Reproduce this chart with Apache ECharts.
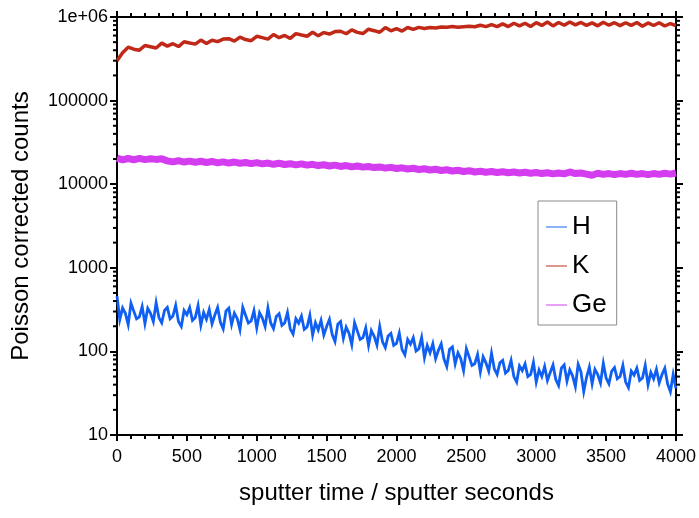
<!DOCTYPE html>
<html>
<head>
<meta charset="utf-8">
<script src="https://cdn.jsdelivr.net/npm/echarts@6/dist/echarts.min.js"></script>
<style>
html,body{margin:0;padding:0;background:#fff;}
#chart{width:699px;height:518px;}
</style>
</head>
<body>
<div id="chart"></div>
<script>
// ---- data ----
const SERIES_NAMES = ['H', 'K', 'Ge'];

const H_TIME = [0,20,40,60,80,100,120,140,160,180,200,220,240,260,280,300,320,340,360,380,400,420,440,460,480,500,520,540,560,580,600,620,640,660,680,700,720,740,760,780,800,820,840,860,880,900,920,940,960,980,1000,1020,1040,1060,1080,1100,1120,1140,1160,1180,1200,1220,1240,1260,1280,1300,1320,1340,1360,1380,1400,1420,1440,1460,1480,1500,1520,1540,1560,1580,1600,1620,1640,1660,1680,1700,1720,1740,1760,1780,1800,1820,1840,1860,1880,1900,1920,1940,1960,1980,2000,2020,2040,2060,2080,2100,2120,2140,2160,2180,2200,2220,2240,2260,2280,2300,2320,2340,2360,2380,2400,2420,2440,2460,2480,2500,2520,2540,2560,2580,2600,2620,2640,2660,2680,2700,2720,2740,2760,2780,2800,2820,2840,2860,2880,2900,2920,2940,2960,2980,3000,3020,3040,3060,3080,3100,3120,3140,3160,3180,3200,3220,3240,3260,3280,3300,3320,3340,3360,3380,3400,3420,3440,3460,3480,3500,3520,3540,3560,3580,3600,3620,3640,3660,3680,3700,3720,3740,3760,3780,3800,3820,3840,3860,3880,3900,3920,3940,3960,3980,4000];
const H_COUNTS = [460,240,330,285,210,377,303,245,259,344,215,328,285,227,382,254,220,309,336,246,265,356,227,199,309,275,334,235,254,354,206,292,242,317,214,272,335,223,186,304,329,210,287,248,182,337,271,218,231,307,191,290,250,198,331,219,187,262,282,205,219,292,185,161,246,218,264,183,196,270,157,220,181,235,157,198,242,159,131,212,228,143,195,165,120,220,175,139,146,191,118,177,152,119,198,130,111,153,164,118,125,166,105,91,139,122,146,101,107,147,84,118,96,124,82,103,123,81,66,106,113,71,96,82,59,108,86,68,71,92,57,86,73,58,95,62,53,73,78,55,59,78,50,43,67,59,71,50,53,74,43,60,50,66,45,56,69,46,39,63,69,44,60,51,38,70,57,33,49,65,41,61,53,42,72,48,41,58,64,47,50,68,43,37,58,52,63,45,48,68,40,56,47,61,42,53,63,41,33,53,36];

const KG_TIME = [0,40,80,120,160,200,240,280,320,360,400,440,480,520,560,600,640,680,720,760,800,840,880,920,960,1000,1040,1080,1120,1160,1200,1240,1280,1320,1360,1400,1440,1480,1520,1560,1600,1640,1680,1720,1760,1800,1840,1880,1920,1960,2000,2040,2080,2120,2160,2200,2240,2280,2320,2360,2400,2440,2480,2520,2560,2600,2640,2680,2720,2760,2800,2840,2880,2920,2960,3000,3040,3080,3120,3160,3200,3240,3280,3320,3360,3400,3440,3480,3520,3560,3600,3640,3680,3720,3760,3800,3840,3880,3920,3960,4000];
const K_COUNTS = [300000,374000,435000,412000,401000,456000,441000,426000,487000,448000,479000,443000,506000,488000,474000,530000,481000,527000,508000,545000,551000,515000,575000,537000,521000,588000,566000,543000,618000,566000,602000,554000,632000,608000,589000,657000,595000,651000,625000,670000,676000,630000,702000,655000,634000,714000,686000,657000,747000,683000,724000,679000,749000,711000,752000,728000,747000,738000,758000,755000,768000,755000,766000,777000,764000,796000,768000,812000,768000,828000,768000,843000,782000,841000,771000,856000,793000,870000,783000,860000,797000,872000,804000,861000,794000,851000,784000,865000,798000,855000,788000,853000,794000,859000,776000,849000,791000,855000,780000,836000,786000];
const GE_COUNTS = [20500,19500,20300,19600,20400,19700,20200,19800,20100,19000,18500,19100,18400,18900,18300,18800,18200,18700,18000,18500,17900,18400,17800,18200,17600,18100,17500,17900,17300,17800,17200,17600,17000,17500,16900,17300,16700,17100,16500,16900,16300,16700,16100,16500,16000,16300,15800,16100,15600,15900,15400,15700,15200,15500,15000,15300,14800,15100,14600,14900,14400,14700,14200,14500,14000,14300,13900,14200,13800,14100,13700,14000,13600,13900,13500,13800,13400,13700,13300,13600,13300,14000,13400,13600,13200,12800,13500,13100,13400,13000,13400,13100,13500,13100,13400,13000,13400,13100,13500,13200,13600];

const X_MIN = 0, X_MAX = 4000, X_INTERVAL = 500;
const Y_TICKS = [10, 100, 1000, 10000, 100000, 1000000];
const Y_TICK_LABELS = ['10', '100', '1000', '10000', '100000', '1e+06'];
const Y_MINOR_TICKS = [20,30,40,50,60,70,80,90,200,300,400,500,600,700,800,900,2000,3000,4000,5000,6000,7000,8000,9000,20000,30000,40000,50000,60000,70000,80000,90000,200000,300000,400000,500000,600000,700000,800000,900000];

const COLORS = {H: '#0f5ff2', K: '#c02818', Ge: '#d43cf0'};
const FONT = "'Liberation Sans', Arial, sans-serif";

function pairs(xs, ys) { return xs.map((x, i) => [x, ys[i]]); }

const chart = echarts.init(document.getElementById('chart'), null, {renderer: 'canvas'});

const axisLine = {show: true, onZero: false, lineStyle: {color: '#000', width: 2}};
const majorTick = {show: true, inside: false, length: 6, lineStyle: {color: '#000', width: 2}};
const minorTick = {show: true, splitNumber: 5, length: 4, lineStyle: {color: '#000', width: 2}};

const option = {
  animation: false,
  backgroundColor: '#fff',
  grid: {left: 117, right: 19, top: 17, bottom: 83, containLabel: false},
  legend: {
    orient: 'vertical',
    left: 538, top: 201,
    padding: [13, 10, 7, 8],
    itemGap: 13,
    itemWidth: 21, itemHeight: 1.5,
    icon: 'rect',
    borderColor: '#8a8a8a', borderWidth: 1,
    textStyle: {fontFamily: FONT, fontSize: 26, color: '#000'},
    data: SERIES_NAMES.map(n => ({name: n, itemStyle: {color: COLORS[n], opacity: 0.65}}))
  },
  xAxis: [{
    type: 'value', min: X_MIN, max: X_MAX, interval: X_INTERVAL, position: 'bottom',
    name: 'sputter time / sputter seconds', nameLocation: 'middle', nameGap: 46,
    nameTextStyle: {fontFamily: FONT, fontSize: 24, color: '#000'},
    axisLine: axisLine, axisTick: majorTick, minorTick: minorTick,
    axisLabel: {fontFamily: FONT, fontSize: 18, color: '#000', margin: 13, formatter: v => String(v)},
    splitLine: {show: false}
  }, {
    type: 'value', min: X_MIN, max: X_MAX, interval: X_INTERVAL, position: 'top',
    axisLine: axisLine, axisTick: majorTick, minorTick: minorTick,
    axisLabel: {show: false},
    splitLine: {show: false}
  }],
  yAxis: [{
    type: 'log', logBase: 10, min: Y_TICKS[0], max: Y_TICKS[Y_TICKS.length - 1], position: 'left',
    name: 'Poisson corrected counts', nameLocation: 'middle', nameGap: 84,
    nameTextStyle: {fontFamily: FONT, fontSize: 24, color: '#000'},
    axisLine: axisLine,
    axisTick: {show: true, inside: false, length: 7, lineStyle: {color: '#000', width: 2}},
    axisLabel: {
      fontFamily: FONT, fontSize: 18, color: '#000', margin: 9,
      formatter: v => { const i = Y_TICKS.findIndex(t => Math.abs(t - v) / t < 1e-6); return i >= 0 ? Y_TICK_LABELS[i] : ''; }
    },
    splitLine: {show: false}
  }, {
    type: 'log', logBase: 10, min: Y_TICKS[0], max: Y_TICKS[Y_TICKS.length - 1], position: 'right',
    axisLine: axisLine,
    axisTick: {show: true, inside: false, length: 7, lineStyle: {color: '#000', width: 2}},
    axisLabel: {show: false},
    splitLine: {show: false}
  }],
  series: [
    {
      name: 'H', type: 'line', xAxisIndex: 0, yAxisIndex: 0, symbol: 'none', sampling: null,
      data: pairs(H_TIME, H_COUNTS),
      itemStyle: {color: COLORS.H},
      lineStyle: {color: COLORS.H, width: 2.8, join: 'miter'}, z: 3
    },
    {
      name: 'K', type: 'line', xAxisIndex: 0, yAxisIndex: 0, symbol: 'none',
      data: pairs(KG_TIME, K_COUNTS),
      itemStyle: {color: COLORS.K},
      lineStyle: {color: COLORS.K, width: 3.5}, z: 3
    },
    {
      name: 'Ge', type: 'line', xAxisIndex: 0, yAxisIndex: 0, symbol: 'none',
      data: pairs(KG_TIME, GE_COUNTS),
      itemStyle: {color: COLORS.Ge},
      lineStyle: {color: COLORS.Ge, width: 7}, z: 3
    },
    {
      // log minor ticks on left and right frame
      name: 'minorTicks', type: 'custom', xAxisIndex: 0, yAxisIndex: 0, clip: false, silent: true, z: 5,
      data: Y_MINOR_TICKS.map(v => [X_MIN, v]),
      renderItem: function (params, api) {
        const v = api.value(1);
        const pl = api.coord([X_MIN, v]);
        const pr = api.coord([X_MAX, v]);
        return {
          type: 'group',
          children: [
            {type: 'line', shape: {x1: pl[0] - 4, y1: pl[1], x2: pl[0], y2: pl[1]}, style: {stroke: '#000', lineWidth: 2}},
            {type: 'line', shape: {x1: pr[0], y1: pr[1], x2: pr[0] + 4, y2: pr[1]}, style: {stroke: '#000', lineWidth: 2}}
          ]
        };
      }
    }
  ]
};
chart.setOption(option);
</script>
</body>
</html>
